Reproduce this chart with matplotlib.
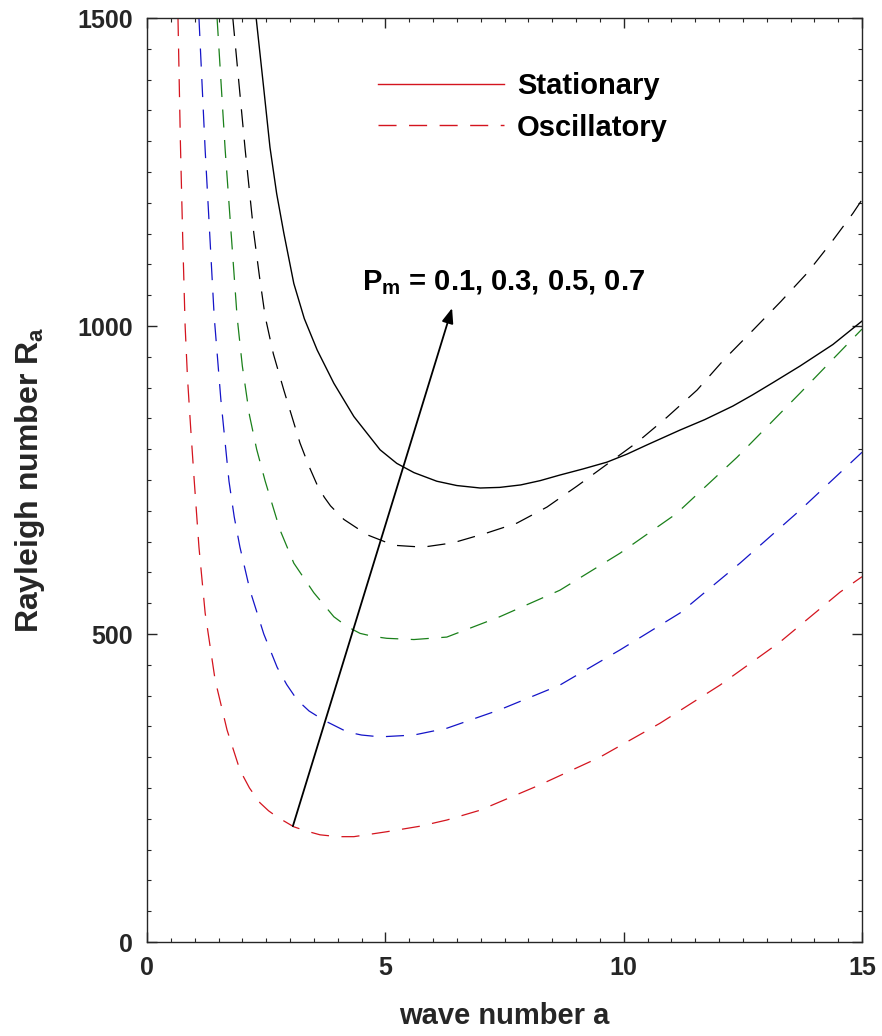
import matplotlib
matplotlib.use("Agg")
import matplotlib.pyplot as plt
from matplotlib.lines import Line2D
from matplotlib.ticker import MultipleLocator

plt.rcParams['font.family'] = ['Liberation Sans', 'DejaVu Sans']
plt.rcParams['font.weight'] = 'bold'
plt.rcParams['mathtext.fontset'] = 'custom'
plt.rcParams['mathtext.rm'] = 'Liberation Sans:bold'
plt.rcParams['mathtext.bf'] = 'Liberation Sans:bold'
plt.rcParams['mathtext.it'] = 'Liberation Sans:bold'
plt.rcParams['lines.scale_dashes'] = False

# Oscillatory curves (Pm = 0.1, 0.3, 0.5, 0.7)
red_x = [0.65, 0.70, 0.75, 0.80, 0.85, 0.92, 0.99, 1.09, 1.22, 1.43, 1.68, 1.95, 2.15, 2.37,
         2.55, 2.73, 3.08, 3.35, 3.63, 4.0, 4.34, 5.03, 5.73, 6.29, 6.99, 8.24, 9.5, 10.76,
         12.02, 13.28, 14.54, 15.0]
red_y = [1500, 1300, 1140, 1000, 915, 830, 750, 641, 534, 425, 344, 279, 250, 226,
         213, 203, 187, 180, 174, 171, 171, 179, 188, 198, 214, 255, 300, 355,
         417, 487, 568, 593]

blue_x = [1.09, 1.22, 1.41, 1.55, 1.72, 1.83, 1.95, 2.16, 2.45, 2.73, 2.93, 3.15, 3.4, 3.71,
          4.2, 4.5, 4.89, 5.6, 6.29, 7.4, 8.66, 9.92, 11.18, 12.44, 13.7, 15.0]
blue_y = [1500, 1286, 1015, 880, 748, 690, 641, 571, 500, 446, 418, 393, 375, 360,
          341, 336, 333, 336, 347, 377, 417, 474, 534, 615, 701, 795]

green_x = [1.47, 1.64, 1.89, 2.0, 2.15, 2.3, 2.48, 2.79, 3.08, 3.5, 3.92, 4.2, 4.47, 4.75,
           5.03, 5.6, 6.29, 7.4, 8.66, 9.92, 11.1, 12.38, 13.7, 15.0]
green_y = [1500, 1286, 1015, 935, 855, 800, 748, 669, 615, 567, 528, 512, 501, 496,
           493, 491, 495, 528, 571, 631, 695, 787, 891, 995]

kdash_x = [1.8, 2.06, 2.24, 2.36, 2.48, 2.65, 2.87, 3.21, 3.4, 3.57, 3.72, 3.85, 4.13, 4.62,
           5.18, 5.79, 6.42, 7.13, 7.76, 8.39, 9.02, 9.57, 10.28, 10.91, 11.54, 12.1, 12.71,
           13.3, 13.85, 14.35, 14.81, 15.0]
kdash_y = [1500, 1286, 1151, 1080, 1015, 955, 896, 810, 772, 742, 722, 708, 686, 661,
           644, 641, 648, 664, 680, 706, 740, 771, 811, 852, 896, 945, 993,
           1040, 1086, 1135, 1183, 1205]

# Stationary curve
stat_x = [2.29, 2.45, 2.58, 2.72, 2.87, 3.08, 3.3, 3.57, 3.92, 4.34, 4.89, 5.24, 5.6, 6.08,
          6.5, 6.99, 7.4, 7.84, 8.25, 8.66, 9.15, 9.65, 10.07, 10.49, 11.18, 11.7, 12.29,
          12.7, 13.13, 13.7, 14.39, 15.0]
stat_y = [1500, 1385, 1290, 1215, 1151, 1069, 1012, 961, 907, 853, 799, 777, 762, 748,
          741, 737, 738, 742, 749, 758, 768, 779, 792, 807, 831, 848, 870,
          888, 908, 935, 970, 1008]

arrow_start = (3.06, 188)
arrow_end = (6.4, 1029)

fig = plt.figure(figsize=(8.82, 10.36), dpi=100)
ax = fig.add_axes([147/882, 1 - 942/1036, (862-147)/882, (942-18)/1036])

dash = (0, (13, 9))
lw = 0.9
ax.plot(red_x, red_y, color='#d4141e', lw=lw, linestyle=dash)
ax.plot(blue_x, blue_y, color='#1414c8', lw=lw, linestyle=dash)
ax.plot(green_x, green_y, color='#1a801a', lw=lw, linestyle=dash)
ax.plot(kdash_x, kdash_y, color='black', lw=lw, linestyle=dash)
ax.plot(stat_x, stat_y, color='black', lw=1.0, linestyle='-')

ax.annotate('', xy=arrow_end, xytext=arrow_start,
            arrowprops=dict(arrowstyle='-|>,head_length=0.9,head_width=0.35',
                            color='black', lw=1.3, shrinkA=0, shrinkB=0))
ax.text(4.5, 1071, r'$\mathbf{P_m}$ = 0.1, 0.3, 0.5, 0.7', fontsize=21,
        fontweight='bold', ha='left', va='center')

handles = [Line2D([], [], color='#d4141e', lw=1.0, linestyle='-'),
           Line2D([], [], color='#d4141e', lw=1.0, linestyle=(0, (13, 9)))]
leg = ax.legend(handles, ['Stationary', 'Oscillatory'], loc='upper left',
                bbox_to_anchor=(0.287, 0.970), frameon=False, fontsize=21,
                handlelength=4.3, handletextpad=0.45, labelspacing=0.47)
for t in leg.get_texts():
    t.set_fontweight('bold')

ax.set_xlim(0, 15)
ax.set_ylim(0, 1500)
ax.set_xticks([0, 5, 10, 15])
ax.set_yticks([0, 500, 1000, 1500])
ax.xaxis.set_minor_locator(MultipleLocator(0.5))
ax.yaxis.set_minor_locator(MultipleLocator(50))
ax.tick_params(which='both', direction='in', top=True, right=True, color='#262626')
ax.tick_params(which='major', length=7, width=1.0, labelsize=18, pad=10)
ax.tick_params(which='minor', length=3, width=0.8)
for lab in ax.get_xticklabels() + ax.get_yticklabels():
    lab.set_fontweight('bold')
    lab.set_color('#262626')
for s in ax.spines.values():
    s.set_color('#262626')
    s.set_linewidth(1.0)

ax.set_xlabel('wave number a', fontsize=21, fontweight='bold', color='#262626', labelpad=16)
ax.set_ylabel(r'Rayleigh number $\mathbf{R_a}$', fontsize=23, fontweight='bold',
              color='#262626', labelpad=22)

fig.savefig('out.png', dpi=100)
